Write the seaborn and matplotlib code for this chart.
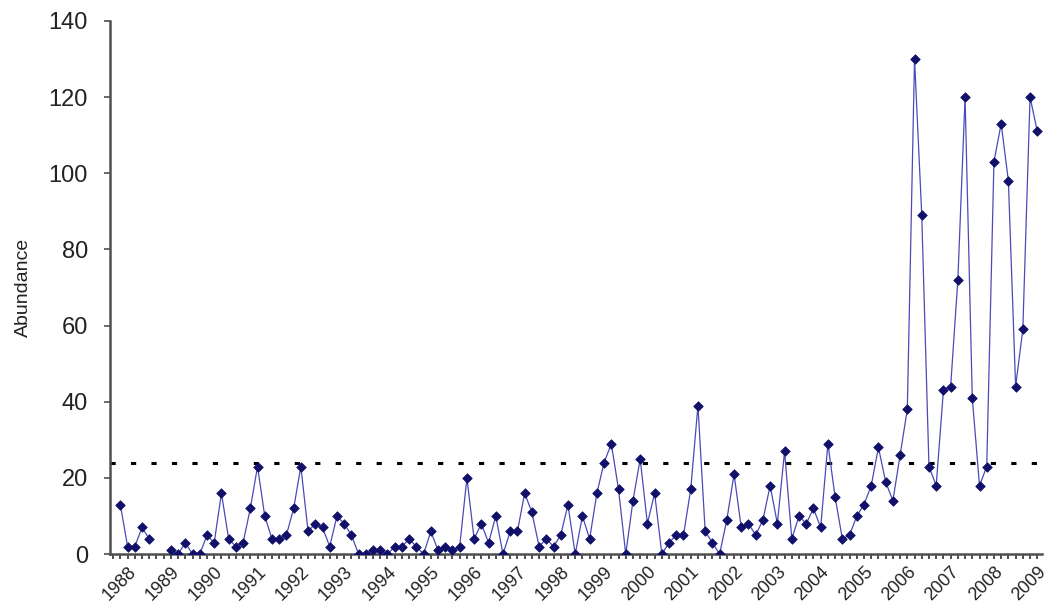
import numpy as np
import pandas as pd
import matplotlib
matplotlib.use("Agg")
import matplotlib.pyplot as plt
import seaborn as sns

nan = np.nan

# Bimonthly survey counts, one entry per sampling slot (NaN = not sampled)
abundance = [
    13, 2, 2, 7, 4, nan, nan, 1, 0, 3, 0, 0, 5, 3, 16, 4, 2, 3, 12, 23, 10,
    4, 4, 5, 12, 23, 6, 8, 7, 2, 10,
    8, 5, 0, 0, 1, 1, 0, 2, 2, 4, 2, 0, 6, 1, 2, 1, 2, 20, 4, 8, 3, 10, 0,
    6, 6, 16, 11, 2, 4, 2, 5, 13, 0,
    10, 4, 16, 24, 29, 17, 0, 14, 25, 8, 16, 0, 3, 5, 5, 17, 39, 6, 3, 0,
    9, 21, 7, 8, 5, 9, 18, 8, 27, 4, 10, 8, 12, 7, 29, 15, 4, 5, 10, 13,
    18, 28, 19, 14, 26, 38, 130, 89, 23, 18, 43, 44, 72, 120, 41, 18, 23,
    103, 113, 98, 44, 59, 120, 111,
]
years = [str(y) for y in range(1988, 2010)]
year_slots = [1 + 6 * i for i in range(len(years))]
threshold = 24

df = pd.DataFrame({"slot": np.arange(len(abundance)), "abundance": abundance})
df["run"] = df["abundance"].isna().cumsum()
df = df.dropna()

sns.set_theme(style="white")
plt.rcParams["font.family"] = ["Liberation Sans", "DejaVu Sans"]

fig, ax = plt.subplots(figsize=(10.5, 6.13), dpi=100)
fig.subplots_adjust(left=0.105, right=0.992, bottom=0.096, top=0.966)

line_color = "#4a4ab8"
marker_color = "#10106a"

sns.lineplot(data=df, x="slot", y="abundance", units="run", estimator=None,
             color=line_color, lw=0.9, ax=ax, legend=False, zorder=3)
sns.scatterplot(data=df, x="slot", y="abundance", marker="D", s=24,
                color=marker_color, edgecolor=marker_color, linewidth=0.5,
                ax=ax, legend=False, zorder=4)

ax.axhline(threshold, color="black", lw=2.2, linestyle=(0, (1.7, 5)),
           dash_capstyle="butt", zorder=2)

ax.set_xlim(-1.4, 127.6)
ax.set_ylim(0, 140)
ax.set_yticks(range(0, 141, 20))
ax.set_xticks(year_slots)
ax.set_xticklabels(years, rotation=45, ha="right", rotation_mode="anchor",
                   fontsize=13, color="#222222")
ax.set_xticks(range(-1, len(abundance)), minor=True)

for side in ["top", "right"]:
    ax.spines[side].set_visible(False)
for side in ["left", "bottom"]:
    ax.spines[side].set_color("#505050")
    ax.spines[side].set_linewidth(1.8)

ax.tick_params(axis="y", which="major", direction="out", length=4, width=1.2,
               color="#505050", labelsize=17, labelcolor="#222222", pad=12,
               left=True)
ax.tick_params(axis="x", which="both", direction="out", length=3.5, width=1.2,
               color="#303030", bottom=True, pad=3)

ax.set_xlabel("")
ax.set_ylabel("Abundance", fontsize=14, color="#222222", labelpad=12)
ax.grid(False)

fig.savefig("out.png", dpi=100, facecolor="white")
